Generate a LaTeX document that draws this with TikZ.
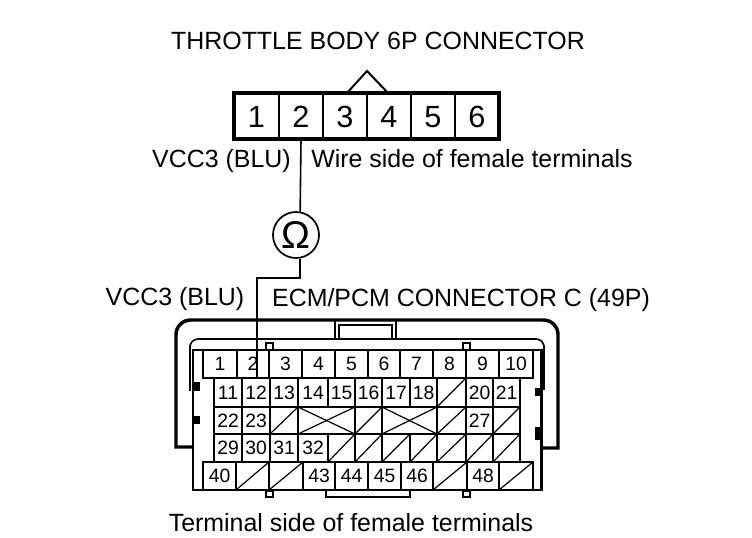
\documentclass[tikz,border=0pt]{standalone}
\usepackage{fontspec}
\setmainfont{Liberation Sans}
\tikzset{
  lbl/.style={inner sep=0pt,anchor=base,font=\fontsize{18.7}{20}\selectfont},
  cellnode/.style={draw,inner sep=0pt,outer sep=0pt,line width=1.1pt,text height=10pt,text depth=0pt,font=\fontsize{14.5}{16}\selectfont},
  rowone/.style={cellnode,line width=1.7pt},
  topcell/.style={draw,inner sep=0pt,outer sep=0pt,line width=1.7pt,text height=18pt,text depth=0pt,font=\fontsize{23}{24}\selectfont},
  wire/.style={line width=1.2pt},
  shell/.style={line width=2.6pt,line join=miter},
  thinline/.style={line width=1.2pt},
  block/.style={fill=black,draw=none},
  tab/.style={draw,fill=white,line width=1.2pt},
  tabthick/.style={draw,fill=white,line width=2.2pt},
  hatch/.style={line width=0.9pt},
}
\newcommand\pxcell[7]{% style name x1 y1 x2 y2 text
  \pgfmathsetmacro\cw{(#5-#3)*0.75}\pgfmathsetmacro\ch{(#6-#4)*0.75}
  \node[#1,minimum width=\cw pt,minimum height=\ch pt] (#2) at ({(#3+#5)/2},{(#4+#6)/2}) {#7};}
\begin{document}
\begin{tikzpicture}[x=0.75pt,y=-0.75pt]
\useasboundingbox (0,0) rectangle (752,538);
\fill[white] (0,0) rectangle (752,538);

% titles
\node[lbl] (title) at (378,50) {THROTTLE BODY 6P CONNECTOR};
\node[lbl] (vccA) at (221.5,168) {VCC3 (BLU)};
\node[lbl] (wireside) at (472,168) {Wire side of female terminals};
\node[lbl] (vccB) at (175,305) {VCC3 (BLU)};
\node[lbl] (ecm) at (461,306) {ECM/PCM CONNECTOR C (49P)};
\node[lbl] (termside) at (351,531) {Terminal side of female terminals};

% throttle body connector
\foreach \n/\a/\b in {1/234/279,2/279/323,3/323/367,4/367/411,5/411/455,6/455/499}{
  \pxcell{topcell}{tb\n}{\a}{93}{\b}{139}{\n}
}
\draw[line width=2.6pt] (tb1.north west) rectangle (tb6.south east);
\coordinate (keyL) at (347,93);
\coordinate (keyT) at (367,71);
\coordinate (keyR) at (388,93);
\draw[line width=1.5pt,line join=miter] (keyL) -- (keyT) -- (keyR);

% meter
\node[draw,circle,line width=1.3pt,minimum size=34.5pt,inner sep=0pt,font=\fontsize{29}{30}\selectfont] (ohm) at (296,235) {Ω};
\coordinate (bend) at (257,278);
\coordinate (pin) at (257,378);

% ECM connector shell
\draw[shell] (192,447) -- (176,447) [rounded corners=11pt] -- (176,320) -- (558,320) [sharp corners] -- (558,448) -- (542,448);
\draw[thinline] (335,320) -- (335,339);
\draw[thinline] (396,320) -- (396,339);
\draw[line width=2pt] (339,339) -- (339,325) -- (392,325) -- (392,339);
\draw[thinline,rounded corners=6pt] (190,350) -- (190,339) -- (544,339) -- (544,350);
\draw[line width=2pt] (190,345) -- (190,391);
\draw[line width=2pt] (544,345) -- (544,390);
\fill[block] (194,382) rectangle (200,391);
\fill[block] (194,416) rectangle (200,424);
\fill[block] (535,388) rectangle (541,396);
\fill[block] (535,427) rectangle (541,440);
\draw[tab] (266,343) rectangle (273,350);
\draw[tab] (463,343) rectangle (470,350);
\draw[line width=2.2pt] (326,490) -- (326,497) -- (410,497) -- (410,490);

% body
\draw[line width=2pt] (193,350) rectangle (541.5,490);

% rows 2-4
\foreach \n/\a/\b in {11/214/242,12/242/270,13/270/298,14/298/328,15/328/355,16/355/382,17/382/410,18/410/437,20/466/493,21/493/520}{
  \pxcell{cellnode}{c\n}{\a}{378}{\b}{407}{\n}
}
\foreach \n/\a/\b in {22/214/242,23/242/270,27/466/493}{
  \pxcell{cellnode}{c\n}{\a}{407}{\b}{434}{\n}
}
\foreach \n/\a/\b in {29/214/242,30/242/270,31/270/298,32/298/328}{
  \pxcell{cellnode}{c\n}{\a}{434}{\b}{462}{\n}
}
% slashed cells
\foreach \n/\a/\b/\t/\u in {a/437/466/378/407,b/270/298/407/434,c/355/382/407/434,d/437/466/407/434,e/493/520/407/434,f/328/355/434/462,g/355/382/434/462,h/382/410/434/462,i/410/437/434/462,j/437/466/434/462,k/466/493/434/462,l/493/520/434/462}{
  \pxcell{cellnode}{s\n}{\a}{\t}{\b}{\u}{}
  \draw[hatch] (s\n.south west) -- (s\n.north east);
}
% crossed cells
\foreach \n/\a/\b in {a/298/355,b/382/437}{
  \pxcell{cellnode}{x\n}{\a}{407}{\b}{434}{}
  \draw[hatch] (x\n.south west) -- (x\n.north east);
  \draw[hatch] (x\n.north west) -- (x\n.south east);
}

% row 1
\foreach \n/\a/\b in {1/203/237,2/237/269,3/269/302,4/302/335,5/335/368,6/368/400,7/400/433,8/433/466,9/466/499,10/499/533}{
  \pxcell{rowone}{r\n}{\a}{350}{\b}{378}{\n}
}
% row 5
\foreach \n/\a/\b in {40/203/236,43/303/335,44/335/368,45/368/401,46/401/433,48/467/499}{
  \pxcell{rowone}{c\n}{\a}{462}{\b}{490}{\n}
}
\foreach \n/\a/\b in {m/236/269,n/269/303,o/433/467,p/499/533}{
  \pxcell{rowone}{s\n}{\a}{462}{\b}{490}{}
  \draw[hatch] (s\n.south west) -- (s\n.north east);
}
\draw[tabthick] (266,491) rectangle (273,497);
\draw[tabthick] (463,491) rectangle (470,497);

% meter wiring
\draw[wire] (tb2.south) -- (ohm.80);
\draw[wire] (ohm.-80) |- (bend) -- (pin);
\end{tikzpicture}
\end{document}
